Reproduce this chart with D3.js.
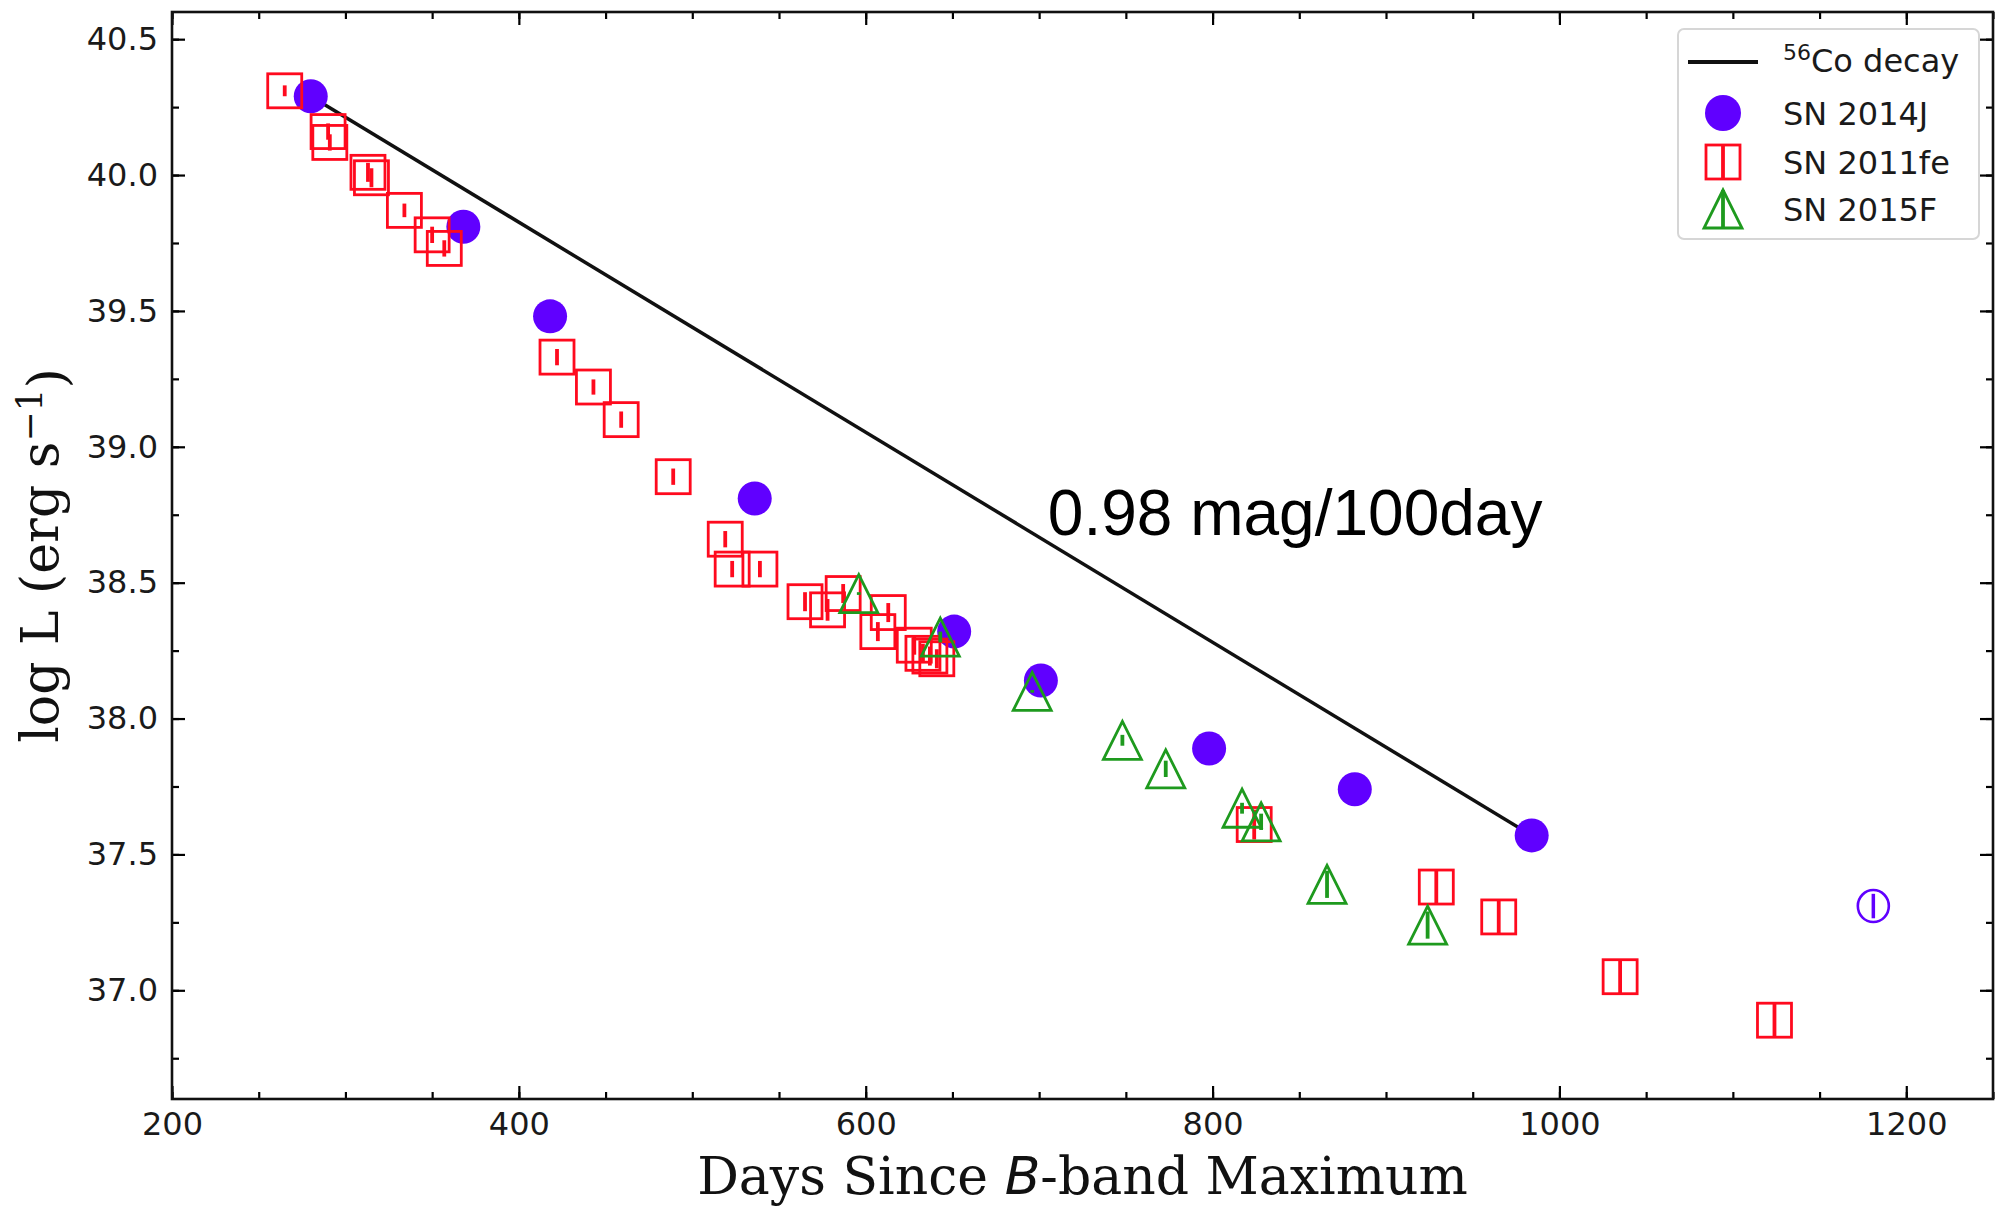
<!DOCTYPE html>
<html>
<head>
<meta charset="utf-8">
<script src="https://cdn.jsdelivr.net/npm/d3@7"></script>
<style>
  body { margin: 0; background: #fff; }
  svg { display: block; }
</style>
</head>
<body>
<div id="chart"></div>
<script>
// Data
const coDays = [280, 984];
const coLogL = [40.29, 37.57];

const sn14jDays = [280, 368, 418, 536, 651, 701, 798, 882, 984];
const sn14jLogL = [40.29, 39.81, 39.48, 38.81, 38.32, 38.14, 37.89, 37.74, 37.57];

// late-time SN 2014J point (open marker)
const sn14jLateDays = [1181];
const sn14jLateLogL = [37.31];
const sn14jLateErr = [0.045];

const sn11feDays = [265, 290, 291, 313, 315, 334, 350, 357, 422, 443, 459, 489, 519, 523, 539,
  565, 578, 587, 607, 613, 628, 633, 637, 641, 824, 929, 965, 1035, 1124];
const sn11feLogL = [40.31, 40.16, 40.12, 40.01, 39.99, 39.87, 39.78, 39.73, 39.33, 39.22, 39.10, 38.89, 38.66, 38.55, 38.55,
  38.43, 38.40, 38.46, 38.32, 38.39, 38.27, 38.24, 38.23, 38.22, 37.61, 37.38, 37.27, 37.05, 36.89];
const sn11feErr = [0.02, 0.03, 0.03, 0.035, 0.035, 0.025, 0.03, 0.03, 0.03, 0.028, 0.03, 0.03, 0.03, 0.03, 0.03,
  0.035, 0.04, 0.035, 0.035, 0.035, 0.035, 0.035, 0.035, 0.035, 0.055, 0.06, 0.06, 0.06, 0.06];

const sn15fDays = [596, 643, 696, 748, 773, 817, 828, 866, 924];
const sn15fLogL = [38.46, 38.30, 38.10, 37.92, 37.815, 37.67, 37.62, 37.39, 37.24];
const sn15fErr = [0.005, 0.02, 0.005, 0.02, 0.03, 0.02, 0.03, 0.05, 0.05];

const xTicks = [200, 400, 600, 800, 1000, 1200];
const yTicks = [37.0, 37.5, 38.0, 38.5, 39.0, 39.5, 40.0, 40.5];

const legendLabels = ["Co decay", "SN 2014J", "SN 2011fe", "SN 2015F"];

// Specify the chart's dimensions.
const width = 1996;
const height = 1207;
const margin = {top: 12, right: 3, bottom: 108, left: 172};

const purple = "#6000ff";
const red = "#ff0a1e";
const green = "#1e9a1e";

const x = d3.scaleLinear()
  .domain([200, 1250])
  .range([margin.left, width - margin.right]);

const y = d3.scaleLinear()
  .domain([36.6, 40.6])
  .range([height - margin.bottom, margin.top]);

const svg = d3.select("#chart").append("svg")
  .attr("width", width)
  .attr("height", height)
  .attr("viewBox", [0, 0, width, height]);

const tickFont = "DejaVu Sans, sans-serif";

// Axes, ticks pointing inward on all four sides
function styleAxis(g) {
  g.select(".domain").remove();
  g.selectAll(".tick line").attr("stroke", "#000").attr("stroke-width", 2.2);
  g.selectAll(".tick text").attr("fill", "#1a1a1a").style("font", `32px ${tickFont}`);
}

const xMinor = d3.range(200, 1251, 50);
const yMinor = d3.range(36.75, 40.6, 0.25);

svg.append("g")
  .attr("transform", `translate(0,${height - margin.bottom})`)
  .call(d3.axisBottom(x).tickValues(xMinor).tickSize(-7).tickFormat(""))
  .call(styleAxis);
svg.append("g")
  .attr("transform", `translate(0,${height - margin.bottom})`)
  .call(d3.axisBottom(x).tickValues(xTicks).tickSize(-13).tickPadding(13).tickFormat(d3.format("d")))
  .call(styleAxis);
svg.append("g")
  .attr("transform", `translate(0,${margin.top})`)
  .call(d3.axisTop(x).tickValues(xMinor).tickSize(-7).tickFormat(""))
  .call(styleAxis);
svg.append("g")
  .attr("transform", `translate(0,${margin.top})`)
  .call(d3.axisTop(x).tickValues(xTicks).tickSize(-13).tickFormat(""))
  .call(styleAxis);

svg.append("g")
  .attr("transform", `translate(${margin.left},0)`)
  .call(d3.axisLeft(y).tickValues(yMinor).tickSize(-7).tickFormat(""))
  .call(styleAxis);
svg.append("g")
  .attr("transform", `translate(${margin.left},0)`)
  .call(d3.axisLeft(y).tickValues(yTicks).tickSize(-13).tickPadding(14).tickFormat(d3.format(".1f")))
  .call(styleAxis);
svg.append("g")
  .attr("transform", `translate(${width - margin.right},0)`)
  .call(d3.axisRight(y).tickValues(yMinor).tickSize(-7).tickFormat(""))
  .call(styleAxis);
svg.append("g")
  .attr("transform", `translate(${width - margin.right},0)`)
  .call(d3.axisRight(y).tickValues(yTicks).tickSize(-13).tickFormat(""))
  .call(styleAxis);

// frame
svg.append("rect")
  .attr("x", margin.left)
  .attr("y", margin.top)
  .attr("width", width - margin.right - margin.left)
  .attr("height", height - margin.bottom - margin.top)
  .attr("fill", "none")
  .attr("stroke", "#111")
  .attr("stroke-width", 2.6);

// Axis titles
const xTitle = svg.append("text")
  .attr("x", (margin.left + width - margin.right) / 2)
  .attr("y", 1194)
  .attr("text-anchor", "middle")
  .attr("fill", "#111")
  .style("font", "52px 'DejaVu Serif', serif");
xTitle.append("tspan").text("Days Since ");
xTitle.append("tspan").attr("font-family", "DejaVu Sans, sans-serif").attr("font-style", "italic").text("B");
xTitle.append("tspan").text("-band Maximum");

const yTitle = svg.append("text")
  .attr("transform", `translate(58,${(margin.top + height - margin.bottom) / 2}) rotate(-90)`)
  .attr("text-anchor", "middle")
  .attr("fill", "#111")
  .style("font", "52px 'DejaVu Serif', serif");
yTitle.append("tspan").text("log L (erg s");
yTitle.append("tspan").attr("dy", "-0.45em").attr("font-size", "36px").text("\u22121");
yTitle.append("tspan").attr("dy", "0.45em").text(")");

// Co-56 decay line
const line = d3.line().x(d => x(d[0])).y(d => y(d[1]));
svg.append("path")
  .datum(d3.zip(coDays, coLogL))
  .attr("d", line)
  .attr("fill", "none")
  .attr("stroke", "#111")
  .attr("stroke-width", 3.5);

// Annotation
svg.append("text")
  .attr("x", x(705))
  .attr("y", y(38.675))
  .attr("fill", "#000")
  .style("font", "64px 'Liberation Sans', Arial, sans-serif")
  .text("0.98 mag/100day");

const r = 17;
const sq = 34;
const tri = 19;

// SN 2014J filled circles
svg.append("g")
  .selectAll("circle")
  .data(d3.zip(sn14jDays, sn14jLogL))
  .join("circle")
    .attr("cx", d => x(d[0]))
    .attr("cy", d => y(d[1]))
    .attr("r", r)
    .attr("fill", purple);

// late open point with error bar
const late = svg.append("g").selectAll("g")
  .data(d3.zip(sn14jLateDays, sn14jLateLogL, sn14jLateErr))
  .join("g");
late.append("line")
  .attr("x1", d => x(d[0])).attr("x2", d => x(d[0]))
  .attr("y1", d => y(d[1] - d[2])).attr("y2", d => y(d[1] + d[2]))
  .attr("stroke", purple).attr("stroke-width", 3.5);
late.append("ellipse")
  .attr("cx", d => x(d[0])).attr("cy", d => y(d[1]))
  .attr("rx", r - 1.5).attr("ry", r - 1)
  .attr("fill", "none").attr("stroke", purple).attr("stroke-width", 2.6);

// SN 2011fe open squares with error bars
const sqG = svg.append("g").selectAll("g")
  .data(d3.zip(sn11feDays, sn11feLogL, sn11feErr))
  .join("g");
sqG.append("line")
  .attr("x1", d => x(d[0])).attr("x2", d => x(d[0]))
  .attr("y1", d => y(d[1] - d[2])).attr("y2", d => y(d[1] + d[2]))
  .attr("stroke", red).attr("stroke-width", 3.8);
sqG.append("rect")
  .attr("x", d => x(d[0]) - sq / 2)
  .attr("y", d => y(d[1]) - sq / 2)
  .attr("width", sq).attr("height", sq)
  .attr("fill", "none").attr("stroke", red).attr("stroke-width", 2.8);

// SN 2015F open triangles with error bars
const triPath = `M0,${-tri}L${tri},${tri}L${-tri},${tri}Z`;
const triG = svg.append("g").selectAll("g")
  .data(d3.zip(sn15fDays, sn15fLogL, sn15fErr))
  .join("g");
triG.append("line")
  .attr("x1", d => x(d[0])).attr("x2", d => x(d[0]))
  .attr("y1", d => y(d[1] - d[2])).attr("y2", d => y(d[1] + d[2]))
  .attr("stroke", green).attr("stroke-width", 3.8);
triG.append("path")
  .attr("transform", d => `translate(${x(d[0])},${y(d[1])})`)
  .attr("d", triPath)
  .attr("fill", "none").attr("stroke", green).attr("stroke-width", 2.8);

// Legend
const legend = svg.append("g");
legend.append("rect")
  .attr("x", 1678).attr("y", 29)
  .attr("width", 301).attr("height", 210)
  .attr("rx", 6)
  .attr("fill", "#fff").attr("fill-opacity", 0.8)
  .attr("stroke", "#d6d6d6").attr("stroke-width", 2);

const rowY = [62, 113, 162, 209];
const keyX = 1723;
const textX = 1783;

legend.append("line")
  .attr("x1", 1688).attr("x2", 1758)
  .attr("y1", rowY[0]).attr("y2", rowY[0])
  .attr("stroke", "#111").attr("stroke-width", 4);
legend.append("circle")
  .attr("cx", keyX).attr("cy", rowY[1]).attr("r", 18)
  .attr("fill", purple);
legend.append("line")
  .attr("x1", keyX).attr("x2", keyX)
  .attr("y1", rowY[2] - sq / 2).attr("y2", rowY[2] + sq / 2)
  .attr("stroke", red).attr("stroke-width", 3.8);
legend.append("rect")
  .attr("x", keyX - sq / 2).attr("y", rowY[2] - sq / 2)
  .attr("width", sq).attr("height", sq)
  .attr("fill", "none").attr("stroke", red).attr("stroke-width", 2.8);
legend.append("line")
  .attr("x1", keyX).attr("x2", keyX)
  .attr("y1", rowY[3] - tri).attr("y2", rowY[3] + tri)
  .attr("stroke", green).attr("stroke-width", 3.8);
legend.append("path")
  .attr("transform", `translate(${keyX},${rowY[3]})`)
  .attr("d", triPath)
  .attr("fill", "none").attr("stroke", green).attr("stroke-width", 2.8);

const legendText = legend.append("g")
  .attr("fill", "#1a1a1a")
  .style("font", `32px ${tickFont}`);

const coLabel = legendText.append("text")
  .attr("x", textX).attr("y", rowY[0] + 10);
coLabel.append("tspan").attr("font-size", "22px").attr("dy", "-12").text("56");
coLabel.append("tspan").attr("dy", "12").text(legendLabels[0]);

legendText.selectAll("text.entry")
  .data(legendLabels.slice(1))
  .join("text")
    .attr("class", "entry")
    .attr("x", textX)
    .attr("y", (d, i) => rowY[i + 1] + 12)
    .text(d => d);
</script>
</body>
</html>
